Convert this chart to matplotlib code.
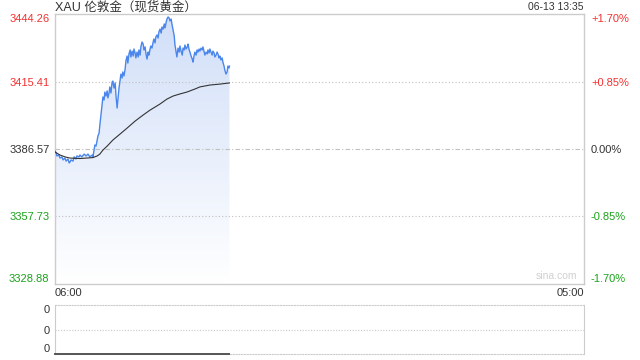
import numpy as np
import matplotlib
matplotlib.use("Agg")
import matplotlib.pyplot as plt
from matplotlib.patches import Polygon

FONT = ['Liberation Sans', 'Noto Sans CJK SC', 'DejaVu Sans']
plt.rcParams['font.family'] = FONT

# minutes after 06:00, price
minutes = [0, 3, 5, 10, 13, 18, 21, 26, 29, 34, 37, 39, 42, 47, 50, 55, 57, 63, 65, 70,
           76, 81, 86, 91, 97, 99, 102, 104, 107, 110, 112, 115, 117, 120, 123, 125, 128, 130, 133, 136,
           138, 141, 143, 146, 149, 151, 154, 157, 159, 162, 164, 167, 170, 172, 175, 177, 180, 183, 185, 188,
           190, 193, 196, 198, 201, 204, 206, 209, 211, 214, 217, 219, 222, 224, 227, 230, 232, 235, 237, 240,
           243, 245, 248, 250, 253, 256, 258, 261, 263, 266, 269, 271, 274, 277, 279, 282, 285, 287, 290, 292,
           295, 298, 300, 303, 305, 308, 311, 313, 316, 318, 321, 324, 326, 329, 332, 334, 337, 339, 342, 345,
           347, 350, 352, 355, 358, 360, 363, 365, 368, 371, 373, 376, 378, 381, 384, 386, 389, 391, 394, 397,
           399, 402, 404, 407, 410, 412, 415, 417, 420, 423, 425, 428, 430, 433, 436, 438, 441, 443, 446, 449,
           451, 454, 455]
price = [3385.7, 3384.9, 3383.6, 3384.0, 3382.7, 3383.2, 3381.9, 3382.7, 3381.4, 3382.3,
         3380.6, 3381.0, 3381.9, 3381.4, 3383.2, 3382.3, 3383.6, 3383.2, 3384.0, 3383.2,
         3384.4, 3383.6, 3384.4, 3383.2, 3384.0, 3383.2, 3386.1, 3388.3, 3387.8, 3390.4,
         3392.1, 3393.4, 3396.8, 3401.1, 3405.8, 3408.8, 3407.5, 3410.9, 3409.2, 3411.4,
         3408.4, 3410.5, 3413.1, 3410.5, 3415.2, 3415.6, 3412.6, 3414.8, 3409.6, 3404.1,
         3407.5, 3412.6, 3416.1, 3418.6, 3416.9, 3419.5, 3417.8, 3420.8, 3424.2, 3426.3,
         3423.3, 3427.2, 3428.9, 3425.9, 3428.4, 3426.3, 3429.3, 3427.6, 3425.5, 3428.0,
         3425.9, 3428.9, 3426.7, 3430.2, 3432.3, 3431.4, 3428.9, 3430.2, 3427.6, 3425.0,
         3428.0, 3426.7, 3429.3, 3430.6, 3429.7, 3432.3, 3433.6, 3431.9, 3434.4, 3435.3,
         3434.0, 3436.6, 3437.8, 3436.1, 3438.7, 3437.8, 3440.0, 3438.3, 3440.8, 3442.1,
         3443.0, 3442.5, 3441.3, 3442.1, 3440.0, 3437.4, 3434.9, 3431.0, 3428.0, 3425.9,
         3429.7, 3428.0, 3430.6, 3428.4, 3426.7, 3429.7, 3428.9, 3431.0, 3429.3, 3430.2,
         3431.4, 3428.9, 3428.0, 3426.3, 3425.0, 3423.7, 3426.7, 3428.0, 3426.7, 3428.9,
         3428.0, 3429.3, 3428.4, 3429.7, 3428.9, 3430.2, 3428.0, 3426.7, 3428.0, 3427.2,
         3428.9, 3427.6, 3429.3, 3428.0, 3426.7, 3428.4, 3427.6, 3425.9, 3426.7, 3428.0,
         3427.2, 3425.5, 3426.3, 3424.6, 3425.5, 3423.7, 3422.0, 3420.3, 3418.6, 3419.5,
         3422.0, 3421.2, 3422.0]

avg_minutes = [0, 13, 26, 39, 65, 99, 110, 117, 125, 136, 151, 170, 188, 209, 230, 248,
               274, 292, 308, 326, 344, 365, 378, 404, 430, 455]
avg_price = [3385.3, 3384.0, 3383.2, 3382.7, 3382.5, 3382.9, 3383.6, 3384.4, 3386.1, 3387.8,
             3390.4, 3393.0, 3395.5, 3398.5, 3401.1, 3403.2, 3405.8, 3407.9, 3409.2, 3410.1,
             3410.9, 3412.2, 3413.1, 3413.9, 3414.3, 3414.8]

volume = [0, 0]
vol_minutes = [0, 455]

price_ticks = [3328.88, 3357.73, 3386.57, 3415.41, 3444.26]
pct_labels = ['-1.70%', '-0.85%', '0.00%', '+0.85%', '+1.70%']
tick_colors = ['#1aa31a', '#1aa31a', '#333333', '#f23030', '#f23030']
x_labels = ['06:00', '05:00']
span = 1380

fig = plt.figure(figsize=(6.4, 3.6), dpi=100)
ax = fig.add_axes([55 / 640, 1 - 284 / 360, 529 / 640, 270 / 360])
ax.set_xlim(0, span)
ax.set_ylim(price_ticks[0], price_ticks[-1])

# gradient fill under the price line
poly = Polygon(list(zip(minutes, price)) + [(minutes[-1], price_ticks[0]), (minutes[0], price_ticks[0])],
               closed=True, facecolor='none', edgecolor='none')
ax.add_patch(poly)
grad = np.linspace(0, 1, 256).reshape(-1, 1)
top_c = np.array([0.80, 0.86, 0.97])
cols = top_c[None, None, :] * (1 - grad[:, :, None]) + np.ones(3)[None, None, :] * grad[:, :, None]
cols = cols ** 0.9
im = ax.imshow(cols, extent=[0, span, price_ticks[0], max(price)], aspect='auto',
               origin='upper', zorder=1)
im.set_clip_path(poly)

ax.plot(minutes, price, color='#4a86ec', lw=1.0, zorder=3)
ax.plot(avg_minutes, avg_price, color='#333333', lw=0.8, zorder=4)

for v in price_ticks[1:-1]:
    ls = (0, (4, 2, 1, 2)) if v == price_ticks[2] else (0, (1, 2))
    ax.axhline(v, color='#c0c0c0', lw=0.8, ls=ls, zorder=2)

for s in ax.spines.values():
    s.set_color('#cccccc')
    s.set_linewidth(1.0)

ax.set_yticks(price_ticks)
ax.set_yticklabels([f'{v:.2f}' for v in price_ticks])
ax.tick_params(axis='y', length=0, pad=4, labelsize=8)
for i, lab in enumerate(ax.get_yticklabels()):
    lab.set_color(tick_colors[i])
    if i == 0:
        lab.set_va('bottom')
    elif i == len(price_ticks) - 1:
        lab.set_va('top')

ax2 = ax.twinx()
ax2.set_ylim(price_ticks[0], price_ticks[-1])
ax2.set_yticks(price_ticks)
ax2.set_yticklabels(pct_labels)
ax2.tick_params(axis='y', length=0, pad=5, labelsize=8)
for i, lab in enumerate(ax2.get_yticklabels()):
    lab.set_color(tick_colors[i])
    if i == 0:
        lab.set_va('bottom')
    elif i == len(price_ticks) - 1:
        lab.set_va('top')
for s in ax2.spines.values():
    s.set_visible(False)

ax.set_xticks([0, span])
ax.set_xticklabels(x_labels)
ax.tick_params(axis='x', length=0, pad=3, labelsize=8, labelcolor='#333333')
xl = ax.get_xticklabels()
xl[0].set_ha('left')
xl[1].set_ha('right')

ax.text(0.988, 0.012, 'sina.com', transform=ax.transAxes, ha='right', va='bottom',
        fontsize=7.5, color='#d0d0d0')

fig.text(55 / 640, 1 - 1 / 360, 'XAU 伦敦金（现货黄金）', ha='left', va='top',
         fontsize=9, color='#333333', family=FONT)
fig.text(584 / 640, 1 - 2 / 360, '06-13 13:35', ha='right', va='top',
         fontsize=7.5, color='#333333')

# volume panel
vx = fig.add_axes([55 / 640, 1 - 354 / 360, 529 / 640, 49 / 360])
vx.set_xlim(0, span)
vx.set_ylim(0, 1)
vx.plot(vol_minutes, volume, color='#555555', lw=1.4, clip_on=False, zorder=4)
vx.axhline(0.5, color='#c8c8c8', lw=0.8, ls=(0, (1, 1.5)))
vx.spines['top'].set_linestyle((0, (1, 1.5)))
vx.spines['bottom'].set_linestyle((0, (1, 1.5)))
for s in vx.spines.values():
    s.set_color('#cccccc')
vx.set_xticks([])
vx.set_yticks([0, 0.5, 1])
vx.set_yticklabels(['0', '0', '0'])
vx.tick_params(axis='y', length=0, pad=4, labelsize=8, labelcolor='#333333')
vl = vx.get_yticklabels()
vl[0].set_va('bottom')
vl[2].set_va('top')

fig.savefig('out.png', dpi=100)
